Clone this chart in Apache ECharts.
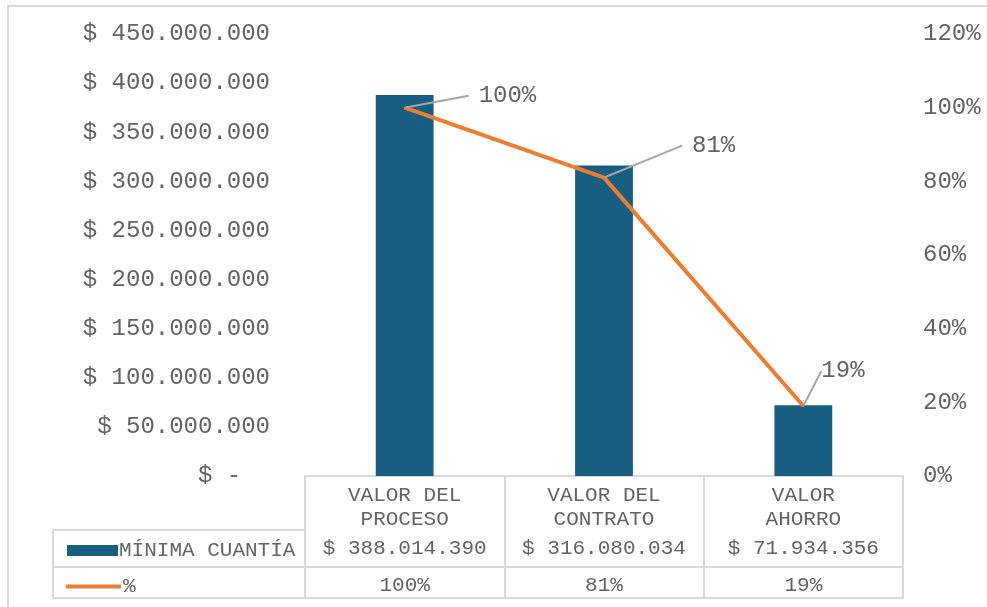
<!DOCTYPE html>
<html><head><meta charset="utf-8">
<script src="https://cdn.jsdelivr.net/npm/echarts@6/dist/echarts.min.js"></script>
<style>html,body{margin:0;padding:0;background:#fff}#c{width:987px;height:607px}</style>
</head><body><div id="c"></div>
<script>
const categories = ['VALOR DEL\nPROCESO', 'VALOR DEL\nCONTRATO', 'VALOR\nAHORRO'];
const barName = 'MÍNIMA CUANTÍA';
const barValues = [388014390, 316080034, 71934356];
const lineName = '%';
const pctValues = [1.00, 0.81, 0.19];
const leftMax = 450000000, leftStep = 50000000;
const rightMax = 1.2, rightStep = 0.2;

const FONT = 'Liberation Mono';
const TXT = '#636363';
const BORDER = '#d9d9d9';
const BAR = '#175E80';
const ORANGE = '#ED7D31';

function dots(n){ return String(Math.round(n)).replace(/\B(?=(\d{3})+(?!\d))/g, '.'); }
function money(n){ return n === 0 ? '$ -  ' : '$ ' + dots(n); }
function pct(v){ return Math.round(v * 100) + '%'; }

const G = {left:305, right:84, top:34, bottom:131};
const H = 607, W = 987;
const axisY = H - G.bottom;          // 476
const rowOff = [54, 91, 122];
const tableLeft = 53;

const chart = echarts.init(document.getElementById('c'), null, {renderer:'canvas'});
const labelOffsets = [[58,-12],[72,-32],[12,-35]];
const labelLead = ['{g|}', '{g|}', ''];
chart.setOption({
  animation:false,
  backgroundColor:'#fff',
  textStyle:{fontFamily:FONT, color:TXT},
  grid:G,
  legend:[
    {data:[{name:barName, icon:'rect'}], left:62, top:535, itemWidth:51, itemHeight:11, itemGap:0,
     textStyle:{fontFamily:FONT, fontSize:21, color:TXT, padding:[0,0,0,-4]}, selectedMode:false},
    {data:[{name:lineName, icon:'rect'}], left:61, top:571, itemWidth:55, itemHeight:4, itemGap:0,
     textStyle:{fontFamily:FONT, fontSize:21, color:TXT, padding:[0,0,0,-3]}, selectedMode:false}
  ],
  xAxis:[
    {type:'category', data:categories, position:'bottom',
     axisLine:{show:true, lineStyle:{color:BORDER, width:2}},
     axisTick:{show:true, interval:0, length:rowOff[2], lineStyle:{color:BORDER, width:2}},
     axisLabel:{interval:0, margin:7, fontFamily:FONT, fontSize:21, color:TXT, lineHeight:24}},
    {type:'category', data:barValues.map(money), position:'bottom', offset:rowOff[0],
     axisLine:{show:true, lineStyle:{color:BORDER, width:2}}, axisTick:{show:false},
     axisLabel:{interval:0, margin:8, fontFamily:FONT, fontSize:21, color:TXT}},
    {type:'category', data:pctValues.map(pct), position:'bottom', offset:rowOff[1],
     axisLine:{show:true, lineStyle:{color:BORDER, width:2}}, axisTick:{show:false},
     axisLabel:{interval:0, margin:8, fontFamily:FONT, fontSize:21, color:TXT}},
    {type:'category', data:categories, position:'bottom', offset:rowOff[2],
     axisLine:{show:true, lineStyle:{color:BORDER, width:2}}, axisTick:{show:false},
     axisLabel:{show:false}}
  ],
  yAxis:[
    {type:'value', min:0, max:leftMax, interval:leftStep, position:'left',
     splitLine:{show:false}, axisLine:{show:false}, axisTick:{show:false},
     axisLabel:{margin:35, fontFamily:FONT, fontSize:24, color:TXT, formatter:money}},
    {type:'value', min:0, max:rightMax, interval:rightStep, position:'right',
     splitLine:{show:false}, axisLine:{show:false}, axisTick:{show:false},
     axisLabel:{margin:20, fontFamily:FONT, fontSize:24, color:TXT, formatter:pct}}
  ],
  series:[
    {name:barName, type:'bar', data:barValues, barWidth:'29%', itemStyle:{color:BAR}},
    {name:lineName, type:'line', yAxisIndex:1, data:pctValues,
     symbol:'circle', symbolSize:2, itemStyle:{color:ORANGE},
     lineStyle:{color:ORANGE, width:4},
     label:{show:true, position:'right', distance:5, fontFamily:FONT, fontSize:24, color:TXT,
            formatter:p=>labelLead[p.dataIndex] + pct(p.value),
            rich:{g:{width:10, height:10}}},
     labelLine:{show:true, lineStyle:{color:'#a6a6a6', width:2}},
     labelLayout:function(p){ const o = labelOffsets[p.dataIndex]; return {dx:o[0], dy:o[1]}; }
    }
  ],
  graphic:[
    {type:'rect', shape:{x:8, y:6, width:1200, height:800}, style:{fill:null, stroke:BORDER, lineWidth:2}, silent:true},
    {type:'line', shape:{x1:tableLeft, y1:axisY+rowOff[0], x2:G.left, y2:axisY+rowOff[0]}, style:{stroke:BORDER, lineWidth:2}},
    {type:'line', shape:{x1:tableLeft, y1:axisY+rowOff[1], x2:G.left, y2:axisY+rowOff[1]}, style:{stroke:BORDER, lineWidth:2}},
    {type:'line', shape:{x1:tableLeft, y1:axisY+rowOff[2], x2:G.left, y2:axisY+rowOff[2]}, style:{stroke:BORDER, lineWidth:2}},
    {type:'line', shape:{x1:tableLeft, y1:axisY+rowOff[0], x2:tableLeft, y2:axisY+rowOff[2]}, style:{stroke:BORDER, lineWidth:2}}
  ]
});
</script>
</body></html>
